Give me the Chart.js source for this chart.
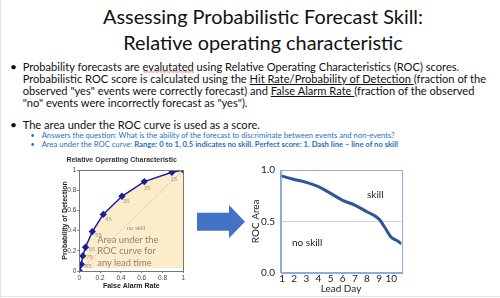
<!DOCTYPE html>
<html><head><meta charset="utf-8">
<script src="https://cdn.jsdelivr.net/npm/chart.js@4/dist/chart.umd.min.js"></script>
<style>
html,body{margin:0;padding:0;background:#fff;}
body{width:500px;height:298px;position:relative;overflow:hidden;font-family:Lato,'Open Sans',sans-serif;color:#111;}
.abs{position:absolute;white-space:nowrap;}
.fl{display:inline-block;white-space:nowrap;}
#title{left:13px;top:2.5px;width:500px;text-align:center;font-size:24px;line-height:26px;color:#111;}
#b1{left:22.7px;top:60.5px;font-size:12px;line-height:12.2px;}
#b2{left:22.7px;top:118px;font-size:12px;line-height:13px;}
.dot{position:absolute;font-size:10px;}
#sub{left:41.7px;top:131px;font-size:8px;line-height:9px;color:#1f6fc4;}
u{text-decoration:underline;text-underline-offset:1px;}
.spell{background:url("data:image/svg+xml;utf8,<svg xmlns='http://www.w3.org/2000/svg' width='4' height='2'><path d='M0 1.5 L1 0.5 L2 1.5 L3 0.5 L4 1.5' stroke='%23e03030' stroke-width='0.7' fill='none'/></svg>") repeat-x 0 100%;}
canvas{position:absolute;}
#roc{left:60px;top:150px;}
#area{left:240px;top:150px;}
#areaTxt{left:97.3px;top:233.5px;font-size:11.5px;line-height:11.7px;color:#8a8478;}
#noskL{left:126.7px;top:225px;font-size:6px;color:#8c8c8c;font-family:'Liberation Sans',sans-serif;}
#skill{left:367px;top:187.5px;font-size:10px;line-height:12px;color:#222;}
#noskill{left:292px;top:235.5px;font-size:10px;line-height:12px;color:#222;}
#arrow{position:absolute;left:196.7px;top:205px;width:48.3px;height:33.3px;background:#4472c4;
 clip-path:polygon(0 7.7px,32.3px 7.7px,32.3px 0,48.3px 16.7px,32.3px 33.3px,32.3px 25.7px,0 25.7px);}
#edgeL{position:absolute;left:0;top:0;width:1px;height:298px;background:#e4e4e4;}
#edgeB{position:absolute;left:0;top:296px;width:500px;height:1px;background:#e4e4e4;}
</style></head>
<body>
<div id="edgeL"></div><div id="edgeB"></div>
<div id="title" class="abs"><span class="fl" id="t1">Assessing Probabilistic Forecast Skill:</span><br><span class="fl">Relative operating characteristic</span></div>

<div class="dot" style="left:10px;top:60.5px;font-size:12px;line-height:12.2px;">•</div>
<div id="b1" class="abs">
<span class="fl" id="b1l1">Probability forecasts are <span class="spell">evalutated</span> using Relative Operating Characteristics (ROC) scores.</span><br>
<span class="fl">Probabilistic ROC score is calculated using the <u>Hit Rate/Probability of Detection </u>(fraction of the</span><br>
<span class="fl">observed "yes" events were correctly forecast) and <u>False Alarm Rate </u>(fraction of the observed</span><br>
<span class="fl">"no" events were incorrectly forecast as "yes").</span>
</div>
<div class="dot" style="left:10px;top:118px;font-size:12px;line-height:13px;">•</div>
<div id="b2" class="abs"><span class="fl">The area under the ROC curve is used as a score.</span></div>

<div class="dot" style="left:30.5px;top:131px;font-size:7px;line-height:9px;color:#1f6fc4;">•</div>
<div class="dot" style="left:30.5px;top:140px;font-size:7px;line-height:9px;color:#1f6fc4;">•</div>
<div id="sub" class="abs">
<span class="fl" id="s1">Answers the question: What is the ability of the forecast to discriminate between events and non-events?</span><br>
<span class="fl">Area under the ROC curve: <b>Range: 0 to 1, 0.5 indicates no skill. Perfect score: 1. Dash line – line of no skill</b></span>
</div>

<canvas id="roc" width="135" height="148"></canvas>
<canvas id="area" width="180" height="148"></canvas>
<div id="noskL" class="abs">no skill</div>
<div id="areaTxt" class="abs"><span class="fl" id="a1">Area under the</span><br>ROC curve for<br>any lead time</div>
<div id="arrow"></div>
<div id="skill" class="abs">skill</div>
<div id="noskill" class="abs">no skill</div>

<script>
// ---- data: ROC diagram ----
const falseAlarmRate = [0, 0.02, 0.033, 0.06, 0.125, 0.23, 0.41, 0.625, 0.89, 1];
const probDetection = [0, 0.066, 0.149, 0.235, 0.39, 0.56, 0.74, 0.885, 0.977, 1];
const thresholdLabels = ['', '85', '75', '65', '55', '45', '35', '25', '15', ''];
const noSkillFar = [0, 1];
const noSkillPod = [0, 1];
const shadeFar = [0.035, 0.05, 0.1, 0.2, 0.4, 0.6, 0.85, 1];
const shadePod = [0.03, 0.14, 0.31, 0.5, 0.71, 0.86, 0.96, 1];
const rateTicks = [0, 0.2, 0.4, 0.6, 0.8, 1];
// ---- data: ROC area by lead day ----
const leadDays = [0.87, 1, 2, 3, 4, 5, 6, 7, 8, 9, 9.5, 10, 10.5, 10.85];
const rocArea = [0.945, 0.94, 0.908, 0.88, 0.838, 0.772, 0.705, 0.658, 0.593, 0.522, 0.435, 0.345, 0.31, 0.28];
const leadDayTicks = [1, 2, 3, 4, 5, 6, 7, 8, 9, 10];
const rocAreaTicks = [0, 0.5, 1];

const pts = (xs, ys) => xs.map((x, i) => ({x, y: ys[i]}));

const frame = {
  id: 'frame',
  afterDatasetsDraw(chart, args, o) {
    const {ctx, chartArea: a} = chart;
    ctx.save(); ctx.strokeStyle = o.color; ctx.lineWidth = 1;
    ctx.strokeRect(Math.round(a.left) + 0.5, Math.round(a.top) + 0.5, Math.round(a.right - a.left), Math.round(a.bottom - a.top));
    ctx.restore();
  }
};
const pointLabels = {
  id: 'pointLabels',
  afterDatasetsDraw(chart) {
    const meta = chart.getDatasetMeta(0);
    const ctx = chart.ctx;
    ctx.save();
    ctx.font = '6px "Liberation Sans"'; ctx.fillStyle = '#9a9a9a';
    ctx.textAlign = 'center'; ctx.textBaseline = 'middle';
    const el = meta.data;
    thresholdLabels.forEach((t, i) => {
      if (!t) return;
      const p = el[i], a = el[i - 1], b = el[i + 1];
      let tx = b.x - a.x, ty = b.y - a.y; const L = Math.hypot(tx, ty); tx /= L; ty /= L;
      const nx = -ty, ny = tx;
      ctx.fillText(t, p.x + nx * 7, p.y + ny * 7);
    });
    ctx.restore();
  }
};

Chart.defaults.animation = false;
Chart.defaults.plugins.legend.display = false;
Chart.defaults.plugins.tooltip.enabled = false;

const smallFont = {family: '"Liberation Sans", Arial, sans-serif', size: 6.5};
const smallBold = {family: '"Liberation Sans", Arial, sans-serif', size: 7, weight: 'bold'};

new Chart(document.getElementById('roc'), {
  type: 'scatter',
  data: {datasets: [
    {data: pts(falseAlarmRate, probDetection), showLine: true, borderColor: '#1c1c9c', borderWidth: 1.5,
     pointStyle: 'rectRot', pointRadius: 2.6, pointBackgroundColor: '#1c1c9c', pointBorderColor: '#1c1c9c'},
    {data: pts(noSkillFar, noSkillPod), showLine: true, borderColor: '#a0a0a0', borderWidth: 0.8, borderDash: [1, 1.5], pointRadius: 0},
    {data: pts(shadeFar, shadePod), showLine: true, borderWidth: 0, borderColor: 'rgba(0,0,0,0)', pointRadius: 0,
     backgroundColor: '#fdecca', fill: {value: 0.03}, tension: 0.35}
  ]},
  options: {
    responsive: false, devicePixelRatio: 1,
    layout: {padding: {top: 0, right: 11.7, left: 0, bottom: 0}},
    plugins: {
      title: {display: true, text: 'Relative Operating Characteristic', font: smallBold, color: '#333', padding: {top: 5.8, bottom: 5.8}},
      frame: {color: '#777'}
    },
    scales: {
      x: {type: 'linear', min: 0, max: 1,
        afterBuildTicks: s => { s.ticks = rateTicks.map(v => ({value: v})); },
        afterFit: s => { s.height = 27; },
        ticks: {font: smallFont, color: '#444', padding: 1, maxRotation: 0, autoSkip: false, callback: v => String(v)},
        grid: {display: true, drawOnChartArea: false, drawTicks: true, tickLength: 2, color: '#777'},
        border: {display: true, color: '#777'},
        title: {display: true, text: 'False Alarm Rate', font: smallBold, color: '#222', padding: {top: 0, bottom: 7.8}}},
      y: {type: 'linear', min: 0, max: 1,
        afterBuildTicks: s => { s.ticks = rateTicks.map(v => ({value: v})); },
        afterFit: s => { s.width = 19.3; },
        ticks: {font: smallFont, color: '#444', padding: 1, autoSkip: false, callback: v => String(v)},
        grid: {display: true, drawOnChartArea: false, drawTicks: true, tickLength: 2, color: '#777'},
        border: {display: true, color: '#777'},
        title: {display: true, text: 'Probability of Detection', font: smallBold, color: '#222', padding: {top: 0.8, bottom: 0}}}
    }
  },
  plugins: [frame, pointLabels]
});

const calFont = {family: 'Lato, "Open Sans", sans-serif', size: 10};
new Chart(document.getElementById('area'), {
  type: 'scatter',
  data: {datasets: [
    {data: pts(leadDays, rocArea), showLine: true, borderColor: '#2f5597', borderWidth: 3, pointRadius: 0, tension: 0.4, cubicInterpolationMode: 'monotone'}
  ]},
  options: {
    responsive: false, devicePixelRatio: 1,
    layout: {padding: {top: 20, right: 18.5, left: 0, bottom: 0}},
    plugins: {frame: {color: '#8faadc'}},
    scales: {
      x: {type: 'linear', min: 0.87, max: 10.85,
        afterBuildTicks: s => { s.ticks = leadDayTicks.map(v => ({value: v})); },
        afterFit: s => { s.height = 25.3; },
        ticks: {font: calFont, color: '#222', padding: 0, maxRotation: 0, autoSkip: false},
        grid: {display: false, drawTicks: false},
        border: {display: true, color: '#8faadc'},
        title: {display: true, text: 'Lead Day', font: calFont, color: '#222', padding: {top: 0, bottom: 3.7}}},
      y: {type: 'linear', min: 0, max: 1,
        afterBuildTicks: s => { s.ticks = rocAreaTicks.map(v => ({value: v})); },
        afterFit: s => { s.width = 40.5; },
        ticks: {font: calFont, color: '#222', padding: 5.5, autoSkip: false, callback: v => v.toFixed(1)},
        grid: {display: true, drawTicks: false, color: '#c5d5ef'},
        border: {display: true, color: '#8faadc'},
        title: {display: true, text: 'ROC Area', font: calFont, color: '#222', padding: {top: 10, bottom: 0}}}
    }
  },
  plugins: [frame]
});

function fit(elId, boxId, target) {
  const el = document.getElementById(elId), box = document.getElementById(boxId);
  const w = el.getBoundingClientRect().width;
  const fs = parseFloat(getComputedStyle(box).fontSize);
  box.style.fontSize = (fs * target / w) + 'px';
}
function fitAll() {
  fit('t1', 'title', 320);
  fit('b1l1', 'b1', 436);
  document.getElementById('b2').style.fontSize = document.getElementById('b1').style.fontSize;
  fit('s1', 'sub', 353);
  fit('a1', 'areaTxt', 61);
}
fitAll();
if (document.fonts && document.fonts.ready) document.fonts.ready.then(fitAll);
</script>
</body></html>
